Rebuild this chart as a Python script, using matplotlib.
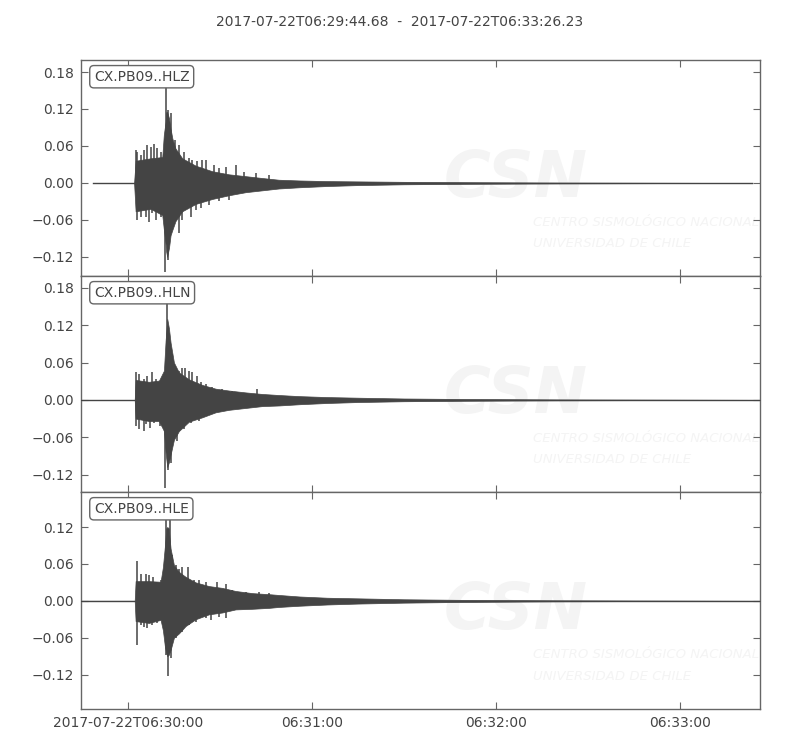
import matplotlib
matplotlib.use("Agg")
import matplotlib.pyplot as plt
from matplotlib.ticker import MultipleLocator, FuncFormatter

# ---- data (seconds relative to 2017-07-22T06:30:00; amplitudes) ----
title = "2017-07-22T06:29:44.68  -  2017-07-22T06:33:26.23"
x_start, x_end = -15.32, 206.23
labels = ["CX.PB09..HLZ", "CX.PB09..HLN", "CX.PB09..HLE"]

# --- HLZ: dense body envelope ---
z_t = [-11.4, 2.0, 2.5, 7.4, 11.2, 11.7, 12.3, 12.5, 12.8, 13.4, 13.9, 14.5, 15.5, 17.7, 22.1,
       27.5, 32.9, 38.4, 43.8, 49.2, 56, 65, 75, 90, 110, 140, 203.5]
z_up = [0, 0, 0.036, 0.040, 0.042, 0.078, 0.100, 0.115, 0.115, 0.105, 0.088, 0.072, 0.056, 0.040,
        0.028, 0.019, 0.014, 0.011, 0.008, 0.0052, 0.004, 0.003, 0.0025, 0.0018, 0.0012, 0.0006, 0]
z_lo = [0, 0, -0.046, -0.042, -0.052, -0.075, -0.100, -0.112, -0.120, -0.105, -0.085, -0.076,
        -0.062, -0.046, -0.034, -0.026, -0.020, -0.015, -0.012, -0.009, -0.007, -0.005, -0.0035,
        -0.0022, -0.0014, -0.0007, 0]
# --- HLZ: spikes ---
z_spk_t = [2.50, 3.04, 4.13, 5.22, 6.30, 7.39, 8.48, 9.57, 10.65, 12.28, 13.15, 13.91, 15.33, 16.63,
           18.26, 19.89, 20.98, 22.61, 24.24, 25.33, 28.05, 29.67, 31.85, 35.11, 37.83, 41.63, 45.98,
           3.04, 4.13, 5.76, 6.85, 7.93, 9.02, 10.65, 12.07, 13.15, 14.46, 16.63, 17.72, 20.44,
           22.07, 23.70, 26.41, 29.67, 32.93]
z_spk_v = [0.054, 0.051, 0.045, 0.054, 0.062, 0.059, 0.064, 0.056, 0.051, 0.158, 0.118, 0.113,
           0.070, 0.062, 0.051, 0.040, 0.037, 0.035, 0.037, 0.037, 0.029, 0.024, 0.026, 0.029,
           0.018, 0.016, 0.013,
           -0.060, -0.055, -0.055, -0.063, -0.049, -0.060, -0.055, -0.144, -0.125, -0.076, -0.082,
           -0.060, -0.055, -0.044, -0.041, -0.0357, -0.030, -0.0276]

# --- HLN ---
n_t = [-15.32, 2.2, 2.5, 6.85, 10.11, 11.74, 12.28, 12.83, 13.37, 13.91, 15.0, 16.63, 19.89, 24.24,
       28.59, 32.93, 38.37, 43.80, 49.24, 56, 65, 75, 90, 110, 140, 206.23]
n_up = [0, 0, 0.032, 0.029, 0.031, 0.047, 0.095, 0.130, 0.115, 0.092, 0.060, 0.044, 0.033, 0.024,
        0.018, 0.015, 0.012, 0.0095, 0.0078, 0.006, 0.0045, 0.0035, 0.0022, 0.0014, 0.0007, 0]
n_lo = [0, 0, -0.030, -0.034, -0.034, -0.050, -0.085, -0.108, -0.100, -0.088, -0.064, -0.050,
        -0.035, -0.028, -0.020, -0.016, -0.013, -0.010, -0.009, -0.007, -0.005, -0.0035, -0.0022,
        -0.0014, -0.0007, 0]
n_spk_t = [2.72, 3.59, 5.22, 6.30, 7.72, 9.02, 10.65, 12.83, 13.59, 14.46, 15.54, 16.63, 17.72,
           18.59, 19.89, 20.98, 22.61, 23.70, 25.33, 27.50, 30.76, 34.02, 42.17,
           2.72, 3.59, 5.22, 5.98, 7.07, 8.48, 10.33, 12.07, 13.15, 13.91, 15.0, 16.09, 18.26,
           20.44, 23.15, 25.87, 28.59]
n_spk_v = [0.044, 0.041, 0.033, 0.0386, 0.045, 0.033, 0.031, 0.156, 0.092, 0.0735, 0.052, 0.047,
           0.052, 0.052, 0.047, 0.044, 0.0386, 0.028, 0.025, 0.020, 0.017, 0.0145, 0.017,
           -0.042, -0.047, -0.050, -0.039, -0.0445, -0.0365, -0.042, -0.141, -0.112, -0.101,
           -0.063, -0.066, -0.047, -0.0365, -0.034, -0.026, -0.020]

# --- HLE ---
e_t = [-15.32, 2.2, 2.5, 6.85, 10.65, 11.41, 12.07, 12.5, 12.83, 13.3, 13.91, 15.0, 16.63, 18.81,
       22.07, 26.41, 30.76, 35.11, 40.55, 45.98, 49.24, 56, 65, 75, 90, 110, 140, 206.23]
e_up = [0, 0, 0.032, 0.032, 0.031, 0.055, 0.090, 0.118, 0.120, 0.118, 0.085, 0.058, 0.047, 0.039,
        0.030, 0.024, 0.021, 0.016, 0.0125, 0.0108, 0.0095, 0.007, 0.005, 0.004, 0.0025, 0.0015,
        0.0008, 0]
e_lo = [0, 0, -0.033, -0.036, -0.031, -0.048, -0.075, -0.085, -0.090, -0.088, -0.080, -0.060,
        -0.053, -0.041, -0.030, -0.022, -0.019, -0.014, -0.013, -0.0115, -0.010, -0.008, -0.006,
        -0.0045, -0.003, -0.0018, -0.0008, 0]
e_spk_t = [3.04, 4.13, 5.76, 6.85, 8.15, 9.02, 10.65, 12.28, 13.59, 14.46, 15.54, 16.63, 17.50,
           19.67, 21.52, 23.15, 25.33, 29.13, 31.85, 34.02, 38.37, 42.72, 45.98,
           3.04, 4.13, 5.22, 6.30, 7.93, 9.57, 12.28, 13.15, 13.91, 15.54, 17.72, 19.89, 22.07,
           25.33, 26.96, 29.67, 31.85]
e_spk_v = [0.064, 0.044, 0.044, 0.042, 0.039, 0.031, 0.0335, 0.131, 0.131, 0.074, 0.058, 0.052,
           0.055, 0.055, 0.0335, 0.0335, 0.031, 0.031, 0.028, 0.0173, 0.0146, 0.0146, 0.0119,
           -0.072, -0.039, -0.042, -0.045, -0.039, -0.0368, -0.088, -0.123, -0.0935, -0.061,
           -0.050, -0.039, -0.034, -0.0287, -0.031, -0.026, -0.0287]

ylims = [(-0.151, 0.1995), (-0.148, 0.199), (-0.176, 0.177)]
xtick_pos = [0, 60, 120, 180]
xtick_labels = ["2017-07-22T06:30:00", "06:31:00", "06:32:00", "06:33:00"]

traces = [(z_t, z_up, z_lo, z_spk_t, z_spk_v),
          (n_t, n_up, n_lo, n_spk_t, n_spk_v),
          (e_t, e_up, e_lo, e_spk_t, e_spk_v)]

# ---- figure ----
plt.rcParams['font.family'] = ['DejaVu Sans']
fig = plt.figure(figsize=(8, 7.5), dpi=100)
fig.text(0.5, 0.971, title, ha='center', va='center', fontsize=10, color='#444444')

left, right = 81 / 800, 760 / 800
tops = [60, 276, 492]
bottoms = [276, 492, 709]
trace_color = '#444444'
spine_color = '#666666'
txt_color = '#444444'
wm_color = '#f4f4f4'

def fmt(v, pos):
    s = "%.2f" % v
    if s == "-0.00":
        s = "0.00"
    return s.replace('-', '\u2212')

for i, (tt, up, lo, st, sv) in enumerate(traces):
    b = 1 - bottoms[i] / 750
    h = (bottoms[i] - tops[i]) / 750
    ax = fig.add_axes([left, b, right - left, h])
    # faint watermark
    ax.text(0.64, 0.45, "CSN", transform=ax.transAxes, fontsize=46, fontweight='bold',
            fontstyle='italic', color=wm_color, ha='center', va='center', zorder=0)
    ax.text(0.666, 0.25, "CENTRO SISMOLÓGICO NACIONAL", transform=ax.transAxes, fontsize=9.5,
            fontstyle='italic', color=wm_color, ha='left', va='center', zorder=0)
    ax.text(0.666, 0.15, "UNIVERSIDAD DE CHILE", transform=ax.transAxes, fontsize=9.5,
            fontstyle='italic', color=wm_color, ha='left', va='center', zorder=0)
    # trace
    ax.plot([tt[0], tt[-1]], [0, 0], color=trace_color, lw=1.0, zorder=2)
    ax.fill_between(tt, lo, up, color=trace_color, lw=0.5, edgecolor=trace_color, zorder=3)
    ax.vlines(st, 0, sv, color=trace_color, lw=1.1, zorder=3)
    ax.set_xlim(x_start, x_end)
    ax.set_ylim(*ylims[i])
    ax.yaxis.set_major_locator(MultipleLocator(0.06))
    ax.yaxis.set_major_formatter(FuncFormatter(fmt))
    ax.set_xticks(xtick_pos)
    if i < 2:
        ax.set_xticklabels([])
    else:
        ax.set_xticklabels(xtick_labels)
    ax.tick_params(direction='in', length=5, width=0.8, color=spine_color, top=True, right=True,
                   labelsize=10, labelcolor=txt_color, pad=5)
    for sp in ax.spines.values():
        sp.set_color(spine_color)
        sp.set_linewidth(1.0)
    ax.text(0.019, 0.955, labels[i], transform=ax.transAxes, fontsize=10, color=txt_color,
            ha='left', va='top', zorder=5,
            bbox=dict(boxstyle='round,pad=0.3', fc='white', ec='#666666', lw=1.0))

fig.savefig("out.png", dpi=100)
